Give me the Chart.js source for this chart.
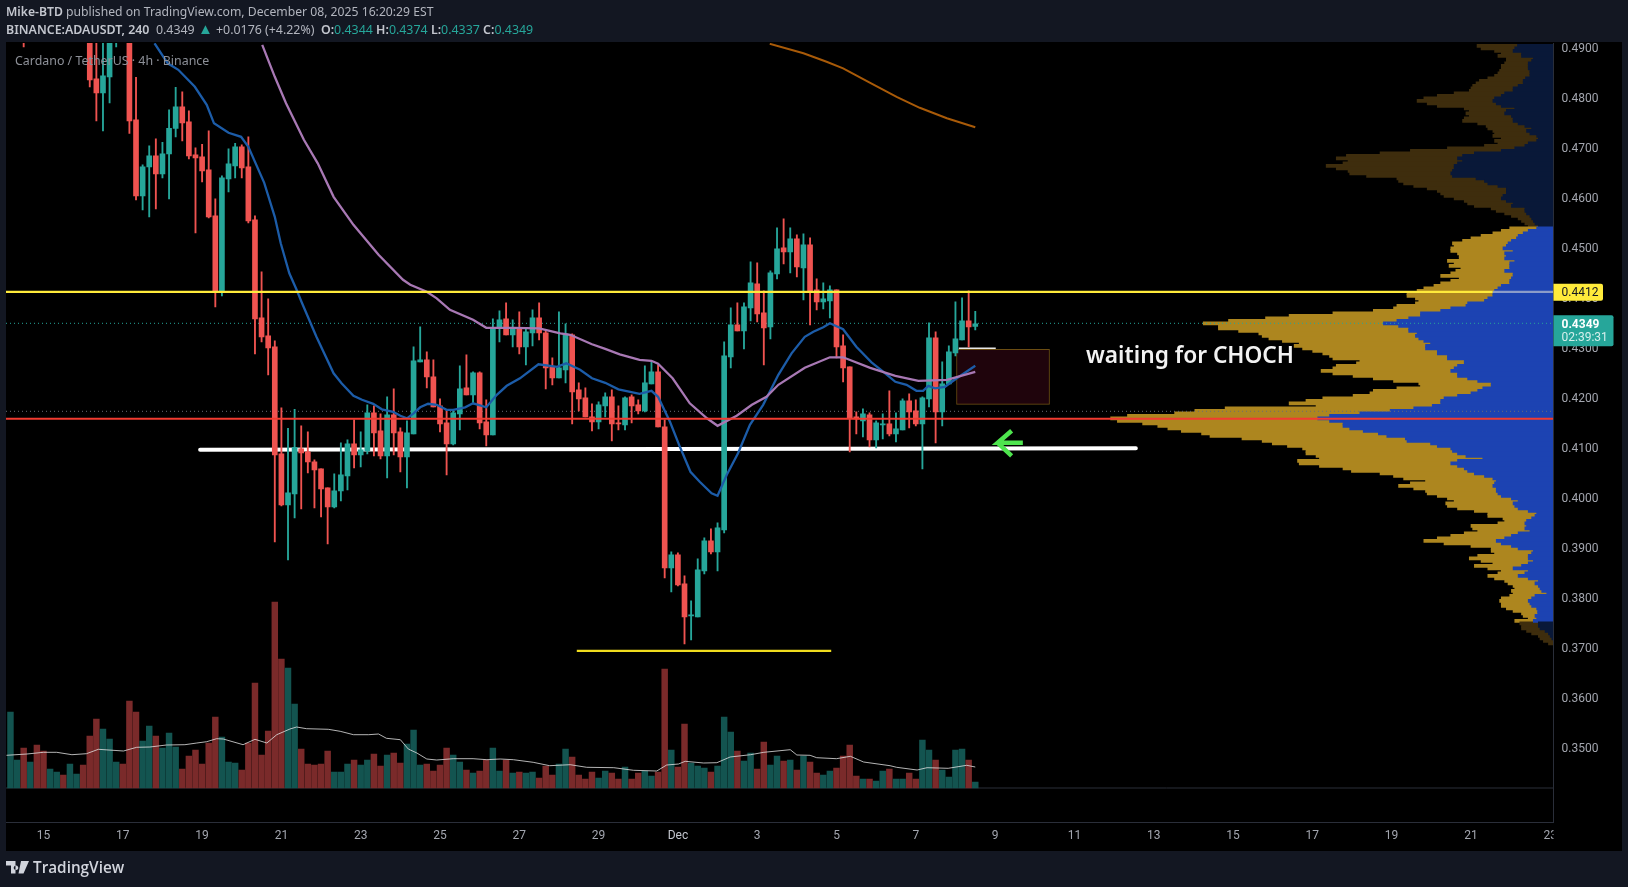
<!DOCTYPE html>
<html>
<head>
<meta charset="utf-8">
<title>ADAUSDT 240</title>
<style>
  html, body { margin: 0; padding: 0; background: #131722; }
  body { width: 1628px; height: 887px; overflow: hidden; position: relative; font-family: "Noto Sans", sans-serif; }
  #grafico { position: absolute; left: 0; top: 0; }
  .txt { position: absolute; white-space: nowrap; }
  #linea1 { left: 6px; top: 3px; font-size: 12.2px; line-height: 18px; color: #b2b5be; }
  #linea2 { left: 6px; top: 20.5px; font-size: 12.4px; line-height: 18px; color: #b2b5be; }
  #linea1 b, #linea2 b { font-weight: 600; color: #c3c6ce; }
  .up { color: #26a69a; }
  .tri { font-size: 15px; line-height: 12px; }
  #simbolo { left: 15px; top: 52px; font-size: 12.4px; line-height: 18px; color: #8d9098; }
  #nota { left: 1086px; top: 338px; font-size: 22.7px; line-height: 34px; font-weight: 600; color: #f2f2f2; }
  #marca { left: 33px; top: 855px; font-family: "Open Sans", sans-serif; font-size: 15.3px; line-height: 24px; font-weight: 600; color: #d1d4dc; }
  #logo { position: absolute; left: 6px; top: 861px; }
</style>
</head>
<body>
<canvas id="grafico" width="1628" height="887"></canvas>
<div class="txt" id="linea1"><b>Mike-BTD</b> published on TradingView.com, December 08, 2025 16:20:29 EST</div>
<div class="txt" id="linea2"><b>BINANCE:ADAUSDT, 240</b> &nbsp;0.4349 <span class="up tri">▲</span> +0.0176 (+4.22%) &nbsp;<b>O:</b><span class="up">0.4344</span> <b>H:</b><span class="up">0.4374</span> <b>L:</b><span class="up">0.4337</span> <b>C:</b><span class="up">0.4349</span></div>
<div class="txt" id="simbolo">Cardano / TetherUS · 4h · Binance</div>
<div class="txt" id="nota">waiting for CHOCH</div>
<svg id="logo" width="23" height="13" viewBox="0 0 23 13"><path fill="#d1d4dc" d="M0 0h9.5v12.5H5V4.5H0zM10 4.5a2.3 2.3 0 1 0 .01 0zM15 0h8l-5.5 12.5h-5z"/></svg>
<div class="txt" id="marca">TradingView</div>

<script src="https://cdn.jsdelivr.net/npm/chart.js@4/dist/chart.umd.js"></script>
<script>
// Ejes
const dateTicks = [0, 12, 24, 36, 48, 60, 72, 84, 96, 108, 120, 132, 144, 156, 168, 180, 192, 204, 216, 228];
const dateLabels = ['15', '17', '19', '21', '23', '25', '27', '29', 'Dec', '3', '5', '7', '9', '11', '13', '15', '17', '19', '21', '23'];
const priceTicks = [0.35, 0.36, 0.37, 0.38, 0.39, 0.40, 0.41, 0.42, 0.43, 0.44, 0.45, 0.46, 0.47, 0.48, 0.49];

// Velas de 4h, la primera esta en el indice -5
const firstCandle = -5;
const opens = [.5075,.5130,.5150,.5080,.5105,.5050,.5010,.5040,.5065,.5030,.5055,.5075,
  .5010,.4839,.4811,.4843,.4960,.5000,.4965,.4757,.4605,.4663,.4685,.4649,.4689,.4740,.4783,.4753,.4687,.4683,.4657,.4565,.4415,.4639,.4665,.4703,.4663,.4557,.4361,.4325,.4303,
  .4089,.3987,.4009,.4099,.4093,.4073,.4059,.4021,.3983,.4015,.4045,.4109,.4087,.4095,.4171,.4135,.4085,.4167,.4133,.4083,.4129,.4273,.4277,.4243,.4185,.4151,.4109,.4169,.4221,.4207,.4251,.4153,.4127,
  .4341,.4359,.4327,.4339,.4303,.4331,.4361,.4331,.4263,.4241,.4257,.4327,.4217,.4201,.4163,.4153,.4185,.4203,.4151,.4147,.4203,.4187,.4175,.4229,.4253,.4143,.3861,.3887,.3829,.3765,.3763,.3855,.3915,.3893,.3937,.4283,.4347,.4335,.4381,.4429,.4371,.4343,.4449,.4501,.4493,.4519,.4461,.4507,.4417,.4393,.4395,.4417,.4305,.4263,.4163,.4155,.4167,.4117,.4147,.4149,.4129,.4137,.4195,.4175,.4149,.4199,.4321,.4173,.4229,.4291,.4317,.4355,.4344];
const closes = [.5130,.5150,.5080,.5105,.5050,.5010,.5040,.5065,.5030,.5055,.5075,.5010,
  .4837,.4811,.4845,.4960,.5000,.4965,.4755,.4605,.4663,.4685,.4649,.4689,.4740,.4783,.4751,.4685,.4681,.4655,.4563,.4415,.4641,.4669,.4703,.4661,.4555,.4359,.4323,.4301,.4087,
  .3987,.4011,.4102,.4091,.4073,.4057,.4019,.3983,.4015,.4047,.4109,.4087,.4097,.4171,.4131,.4085,.4167,.4131,.4083,.4131,.4275,.4277,.4243,.4183,.4149,.4109,.4171,.4219,.4207,.4251,.4151,.4127,.4341,
  .4357,.4327,.4339,.4303,.4333,.4361,.4331,.4261,.4241,.4261,.4329,.4213,.4199,.4163,.4153,.4187,.4203,.4149,.4149,.4201,.4185,.4175,.4231,.4253,.4143,.3861,.3887,.3827,.3763,.3767,.3857,.3915,.3893,.3941,.4285,.4347,.4335,.4383,.4431,.4369,.4341,.4451,.4499,.4493,.4519,.4463,.4507,.4413,.4393,.4399,.4417,.4303,.4261,.4161,.4159,.4169,.4117,.4151,.4149,.4129,.4139,.4195,.4173,.4149,.4201,.4321,.4173,.4229,.4293,.4319,.4355,.4343,.4349];
const highs = [.5150,.5170,.5160,.5125,.5115,.5065,.5055,.5075,.5080,.5065,.5085,.5085,
  .5020,.4925,.4925,.4975,.5010,.5010,.4975,.4842,.4667,.4705,.4719,.4712,.4777,.4822,.4813,.4775,.4701,.4708,.4735,.4599,.4645,.4699,.4710,.4707,.4723,.4565,.4453,.4399,.4315,
  .4181,.4140,.4178,.4145,.4133,.4077,.4059,.4021,.4049,.4111,.4117,.4157,.4133,.4187,.4185,.4169,.4203,.4219,.4141,.4155,.4303,.4343,.4293,.4277,.4199,.4177,.4177,.4265,.4287,.4253,.4253,.4197,.4359,
  .4375,.4391,.4357,.4373,.4339,.4377,.4391,.4335,.4281,.4373,.4349,.4329,.4231,.4221,.4189,.4193,.4211,.4217,.4185,.4203,.4207,.4197,.4265,.4273,.4267,.4157,.3893,.3891,.3845,.3795,.3879,.3921,.3939,.3951,.4313,.4381,.4391,.4391,.4473,.4471,.4415,.4455,.4541,.4559,.4541,.4527,.4529,.4521,.4439,.4431,.4425,.4417,.4327,.4263,.4173,.4179,.4171,.4155,.4169,.4215,.4171,.4199,.4209,.4197,.4203,.4351,.4333,.4273,.4305,.4393,.4401,.4415,.4374];
const lows = [.5060,.5110,.4903,.5060,.5035,.4990,.4995,.5020,.5015,.5020,.5035,.4990,
  .4823,.4755,.4735,.4791,.4903,.4945,.4730,.4597,.4577,.4563,.4579,.4641,.4599,.4723,.4715,.4679,.4531,.4633,.4561,.4383,.4405,.4613,.4641,.4641,.4551,.4289,.4313,.4247,.3913,
  .3985,.3877,.3961,.3979,.4051,.3981,.3963,.3909,.3981,.3995,.4017,.4061,.4063,.4089,.4085,.4079,.4041,.4087,.4053,.4021,.4129,.4273,.4221,.4183,.4133,.4047,.4107,.4137,.4207,.4189,.4139,.4105,.4127,
  .4313,.4327,.4303,.4289,.4267,.4305,.4317,.4219,.4227,.4241,.4231,.4149,.4175,.4163,.4135,.4139,.4163,.4115,.4137,.4137,.4151,.4169,.4173,.4229,.4143,.3841,.3813,.3825,.3709,.3717,.3763,.3849,.3889,.3855,.3931,.4261,.4335,.4299,.4355,.4353,.4267,.4319,.4439,.4469,.4451,.4443,.4397,.4347,.4377,.4379,.4361,.4281,.4233,.4093,.4129,.4123,.4103,.4101,.4119,.4125,.4113,.4137,.4141,.4145,.4059,.4183,.4111,.4145,.4229,.4285,.4317,.4303,.4337];

const volumes = [76,28,40,26,43,37,19,16,13,24,14,23,52,69,59,49,26,24,87,76,47,62,52,40,55,41,19,32,38,24,45,71,51,26,25,18,45,105,33,57,186,129,120,84,39,24,23,24,37,16,16,24,28,23,28,34,22,33,35,25,44,58,23,24,17,23,40,33,26,18,15,17,28,40,17,
  28,15,16,15,16,10,22,13,24,39,31,13,9,16,10,17,15,9,21,9,15,17,12,16,119,38,21,64,25,22,20,16,22,71,56,37,27,35,19,46,23,32,27,28,18,32,26,15,13,17,20,32,43,12,9,9,7,17,19,9,9,15,9,48,38,28,18,11,38,39,28,6];
const volMaX = [-5.6,-2.5,0,2,4.3,6.5,8.3,12.1,14.1,16.1,18.6,21.4,23.2,24.7,26.2,27.2,30.2,32,33.8,35.3,37.3,38.3,39.8,43.1,44.9,46.9,49.2,50.7,51.9,54,55.2,56.5,58,59.5,62,65,67.1,69.1,71.1,74.1,76.6,79.7,82.2,86.3,89.3,92.8,94.3,96.1,97.1,99.9,101.9,103.9,107,109,113,114,116,117,120,122.1,124.1,128.1,129.1,132.2,133.7,136.9,139.7,141];
const volMaY = [32.7,34,35.7,35.7,33.3,34.3,38.7,37,40.7,41,43,43.3,45,46.3,49.3,49,43.3,48.7,45,53.3,59,61,59.3,58.7,56.7,53.3,53.3,54,49.7,48.3,39,35,29,28,29.3,29.3,28.3,29,28.3,25.7,22.3,23.3,20.7,20.3,17.7,17,23,24,26.7,25,25.3,31,33.3,35.7,38.3,33,32.7,30.3,29.3,31.7,26,22.3,20.7,18,20.3,19.7,22.7,21];

// Medias moviles
const blueX = [16.8,18.8,20.4,22.9,24.7,25.8,28,29.9,31,33.4,35,35.9,37.2,38.3,39.1,41.3,43.9,45.1,46.9,48.2,49.9,51.2,52.9,54,55,56,57,58.2,59.5,61,62,63.8,65,67,68.6,70.1,72.1,74.9,77.7,79.1,81.2,83,85,87,90.2,92,93,94.8,96.3,97.9,99.3,101.1,102,103.4,105.1,106.9,108.9,111.2,113.2,115.2,116.5,118,119,121,123,125.3,127.1,128.9,130.6,132.1,133.1,133.9,134.9,136.4,138.2,141];
const blueY = [.4910,.4870,.4857,.4823,.4787,.4750,.4731,.4723,.4703,.4631,.4563,.4510,.4450,.4417,.4391,.4323,.4250,.4230,.4205,.4197,.4189,.4178,.4173,.4165,.4160,.4170,.4182,.4189,.4187,.4177,.4177,.4182,.4190,.4182,.4207,.4225,.4240,.4268,.4263,.4270,.4257,.4240,.4231,.4218,.4209,.4215,.4203,.4153,.4103,.4053,.4033,.4010,.4005,.4047,.4090,.4147,.4187,.4247,.4290,.4323,.4333,.4342,.4350,.4338,.4303,.4272,.4253,.4233,.4227,.4215,.4215,.4225,.4220,.4223,.4240,.4265];
const pinkX = [33.1,35,36.7,39.4,41.5,43.9,46.9,50.7,54.4,55.5,58,59.5,61.5,65,67,71.1,75,78.2,79.7,83,85,87.2,90.2,92,93,95.2,97.8,100.4,102,104.9,107.2,109.4,111.2,115.2,119,121,125.1,128.9,132.4,136.7,141];
const pinkY = [.4907,.4843,.4790,.4717,.4670,.4603,.4547,.4487,.4437,.4427,.4413,.4400,.4377,.4357,.4341,.4341,.4340,.4330,.4327,.4308,.4299,.4288,.4277,.4275,.4269,.4240,.4190,.4160,.4145,.4165,.4187,.4203,.4227,.4261,.4282,.4282,.4261,.4245,.4235,.4237,.4253];
const orangeX = [109.9,115,118.5,121,125.1,129.1,132.6,136.7,141];
const orangeY = [.4909,.4890,.4873,.4860,.4831,.4803,.4781,.4760,.4742];

// Perfil de volumen: precio de cada fila, volumen total y volumen comprador
const profileRows = [.4905,.4900,.4895,.4890,.4885,.4880,.4875,.4870,.4865,.4860,.4855,.4850,.4845,.4840,.4835,.4830,.4825,.4820,.4815,.4810,.4805,.4800,.4795,.4790,.4785,.4780,.4775,.4770,.4765,.4760,.4755,.4750,.4745,.4740,.4735,.4730,.4725,.4720,.4715,.4710,.4705,.4700,.4695,.4690,.4685,.4680,.4675,.4670,.4665,.4660,.4655,.4650,.4645,.4640,.4635,.4630,.4625,.4620,.4615,.4610,.4605,.4600,.4595,.4590,.4585,.4580,.4575,.4570,.4565,.4560,.4555,.4550,.4545,
  .4540,.4535,.4530,.4525,.4520,.4515,.4510,.4505,.4500,.4495,.4490,.4485,.4480,.4475,.4470,.4465,.4460,.4455,.4450,.4445,.4440,.4435,.4430,.4425,.4420,.4415,.4410,.4405,.4400,.4395,.4390,.4385,.4380,.4375,.4370,.4365,.4360,.4355,.4350,.4345,.4340,.4335,.4330,.4325,.4320,.4315,.4310,.4305,.4300,.4295,.4290,.4285,.4280,.4275,.4270,.4265,.4260,.4255,.4250,.4245,.4240,.4235,.4230,.4225,.4220,.4215,.4210,.4205,.4200,.4195,.4190,.4185,.4180,.4175,.4170,.4165,.4160,.4155,.4150,.4145,.4140,.4135,.4130,.4125,.4120,.4115,.4110,.4105,.4100,.4095,.4090,.4085,.4080,.4075,.4070,.4065,.4060,.4055,.4050,.4045,.4040,.4035,.4030,.4025,.4020,.4015,.4010,.4005,.4000,.3995,.3990,.3985,.3980,.3975,.3970,.3965,.3960,.3955,.3950,.3945,.3940,.3935,.3930,.3925,.3920,.3915,.3910,.3905,.3900,.3895,.3890,.3885,.3880,.3875,.3870,.3865,.3860,.3855,.3850,.3845,.3840,.3835,.3830,.3825,.3820,.3815,.3810,.3805,.3800,.3795,.3790,.3785,.3780,.3775,.3770,.3765,.3760,.3755,
  .3750,.3745,.3740,.3735,.3730,.3725,.3720,.3715,.3710];
const profileTotal = [227,215,175,155,165,140,140,145,155,155,160,165,175,195,220,230,240,245,250,295,345,385,405,375,345,265,250,260,250,265,270,225,200,195,180,175,180,155,175,165,205,315,425,515,615,645,610,625,675,645,610,605,555,465,460,445,415,375,345,335,325,295,265,255,235,185,170,145,125,105,95,85,75,
  130,155,180,215,245,270,300,295,305,305,285,280,280,315,295,310,275,290,305,335,280,305,335,355,385,405,435,435,410,400,410,465,475,535,655,785,855,965,1040,995,995,935,875,865,845,805,755,770,745,715,685,665,655,575,585,645,655,690,655,595,535,475,400,395,465,535,545,595,685,735,785,705,975,1065,1125,1265,1315,1295,1220,1175,1145,1105,1045,1020,925,865,835,790,745,735,735,705,695,760,755,695,625,600,515,475,445,380,425,460,415,380,375,345,315,295,320,315,285,235,195,195,150,145,165,245,240,225,265,305,345,385,325,245,185,185,175,225,250,215,180,235,195,155,165,195,175,145,135,120,115,125,120,130,155,160,155,155,140,120,95,90,75,115,
  100,95,95,80,65,45,40,30,15];
const profileUp = [107,115,120,95,95,60,65,75,75,75,70,70,70,83,90,90,105,120,120,145,155,175,180,170,155,115,140,145,125,120,120,105,85,65,80,70,50,45,50,75,85,115,155,235,270,285,270,285,295,295,300,305,300,230,205,195,165,140,140,140,150,155,140,120,125,85,85,80,70,65,60,55,45,
  50,75,90,105,110,125,135,140,150,120,145,140,145,115,130,130,130,145,120,120,125,130,130,155,165,175,180,180,195,205,255,260,305,335,395,395,430,465,505,460,430,430,405,410,400,385,365,380,380,345,345,315,315,265,265,285,295,305,285,285,255,225,185,185,210,225,245,285,325,335,335,360,415,485,575,665,700,665,625,625,605,565,520,495,440,435,365,345,305,300,285,260,210,285,305,285,265,255,235,205,180,170,175,180,170,170,165,155,125,105,120,115,105,75,50,55,65,80,85,80,85,70,105,125,145,170,155,125,105,60,65,75,75,60,75,95,120,75,85,105,75,45,55,45,40,35,20,55,65,75,70,65,50,47,47,55,50,60,
  45,45,40,25,15,10,5,0,0];
const valueAreaHigh = 0.4540;
const valueAreaLow = 0.3755;

// Niveles y dibujos
const yellowLevel = 0.4412;
const yellowLine = 0.4413;
const redLevel = 0.4159;
const lastPrice = 0.4349;
const prevLevel = 0.4174;
const countdown = '02:39:31';
const whiteLineX = [23.7, 165.3];
const whiteLineY = [0.4097, 0.4100];
const lowLineX = [80.7, 119.2];
const lowLineY = [0.3695, 0.3695];
const shortLineX = [138.5, 144.1];
const shortLineY = [0.4300, 0.4300];
const arrowX = [148.2, 144.4, 146.5, 144.4, 146.5];
const arrowY = [0.4111, 0.4111, 0.4135, 0.4111, 0.4085];
const boxCenter = 145.2;
const boxRange = [0.4188, 0.4298];

const upColor = '#26a69a';
const downColor = '#ef5350';
const candleIdx = opens.map((_, k) => k + firstCandle);
const isUp = opens.map((o, k) => closes[k] >= o);

// Crea un dataset de linea a partir de dos listas
function lineSet(xs, ys, color, width, order, extra) {
    return Object.assign({
        type: 'line',
        data: xs.map((x, k) => ({ x: x, y: ys[k] })),
        xAxisID: 'x',
        yAxisID: 'y',
        borderColor: color,
        borderWidth: width,
        pointRadius: 0,
        tension: 0,
        fill: false,
        order: order
    }, extra || {});
}

const xMin = dateTicks[0] - 5.675;
const xMax = 228.5;

const datasets = [
    // Niveles por encima de las velas
    lineSet([xMin, 219.3], [yellowLine, yellowLine], '#ffeb3b', 2.2, 1),
    lineSet([219.3, xMax], [yellowLine, yellowLine], '#8b9cc9', 2.2, 1),
    lineSet([xMin, xMax], [redLevel, redLevel], '#f23b30', 2, 1),
    lineSet(orangeX, orangeY, '#a85a08', 2, 2),
    lineSet(pinkX, pinkY, '#a878b4', 2.3, 2),
    lineSet(blueX, blueY, '#1c5ca8', 2.3, 2),
    lineSet(lowLineX, lowLineY, '#f0dc1e', 2.2, 2),
    lineSet(arrowX, arrowY, '#4ee44e', 4.5, 2),
    // Velas
    {
        type: 'bar',
        data: candleIdx.map((x, k) => ({ x: x, y: [opens[k], closes[k]] })),
        backgroundColor: isUp.map(u => u ? upColor : downColor),
        barThickness: 5,
        minBarLength: 1,
        grouped: false,
        xAxisID: 'x',
        yAxisID: 'y',
        order: 3
    },
    {
        type: 'bar',
        data: candleIdx.map((x, k) => ({ x: x, y: [lows[k], highs[k]] })),
        backgroundColor: isUp.map(u => u ? upColor : downColor),
        barThickness: 1.2,
        grouped: false,
        xAxisID: 'x',
        yAxisID: 'y',
        order: 4
    },
    // Zona y linea blanca por debajo de las velas
    lineSet(shortLineX, shortLineY, '#e8e8e8', 1.5, 5),
    lineSet(whiteLineX, whiteLineY, '#ffffff', 4, 5, { borderCapStyle: 'round' }),
    {
        type: 'bar',
        data: [{ x: boxCenter, y: boxRange }],
        backgroundColor: '#1f040c',
        borderColor: '#6b4d12',
        borderWidth: 1,
        borderSkipped: false,
        barThickness: 93,
        grouped: false,
        xAxisID: 'x',
        yAxisID: 'y',
        order: 6
    },
    // Lineas punteadas
    lineSet([xMin, xMax], [lastPrice + 0.0001, lastPrice + 0.0001], '#26a69a', 1, 7, { borderDash: [1, 3] }),
    lineSet([xMin, xMax], [prevLevel, prevLevel], '#6a6d75', 1, 7, { borderDash: [1, 3] }),
    // Volumen
    {
        type: 'line',
        data: volMaX.map((x, k) => ({ x: x, y: volMaY[k] })),
        xAxisID: 'x',
        yAxisID: 'yVol',
        borderColor: 'rgba(225,225,225,0.8)',
        borderWidth: 1,
        pointRadius: 0,
        fill: false,
        order: 8
    },
    {
        type: 'bar',
        data: candleIdx.map((x, k) => ({ x: x, y: volumes[k] })),
        backgroundColor: isUp.map(u => u ? '#135450' : '#7a2a2a'),
        barThickness: 5.8,
        grouped: false,
        xAxisID: 'x',
        yAxisID: 'yVol',
        order: 9
    },
    {
        type: 'line',
        data: [{ x: xMin, y: 0 }, { x: xMax, y: 0 }],
        xAxisID: 'x',
        yAxisID: 'yVol',
        borderColor: '#2a2e39',
        borderWidth: 1,
        pointRadius: 0,
        order: 10
    },
    // Perfil de volumen, anclado al borde derecho
    {
        type: 'bar',
        indexAxis: 'y',
        data: profileRows.map((p, k) => ({ x: profileUp[k], y: p })),
        backgroundColor: profileRows.map(p => p <= valueAreaHigh && p >= valueAreaLow ? '#1c43b2' : '#091838'),
        barThickness: 3,
        grouped: false,
        xAxisID: 'xP',
        yAxisID: 'y',
        order: 11
    },
    {
        type: 'bar',
        indexAxis: 'y',
        data: profileRows.map((p, k) => ({ x: profileTotal[k], y: p })),
        backgroundColor: profileRows.map(p => p <= valueAreaHigh && p >= valueAreaLow ? '#ad861f' : '#3e2d0d'),
        barThickness: 3,
        grouped: false,
        xAxisID: 'xP',
        yAxisID: 'y',
        order: 12
    }
];

// Fondo negro del panel y etiquetas de precio
const panelPlugin = {
    id: 'panel',
    beforeDraw(chart) {
        const ctx = chart.ctx;
        const s = chart.scales.y;
        ctx.save();
        ctx.fillStyle = '#000000';
        ctx.fillRect(6, 42, s.right - 6, 809);
        ctx.restore();
    },
    afterDatasetsDraw(chart) {
        // tapa lo que se sale del eje de tiempo por la derecha
        const ctx = chart.ctx;
        const s = chart.scales.y;
        ctx.save();
        ctx.fillStyle = '#000000';
        ctx.fillRect(s.left, 42, s.right - s.left, 809);
        ctx.restore();
    },
    afterDraw(chart) {
        const ctx = chart.ctx;
        const s = chart.scales.y;
        const yy = s.getPixelForValue(yellowLevel);
        const yl = s.getPixelForValue(lastPrice);
        ctx.save();
        ctx.textBaseline = 'middle';
        ctx.textAlign = 'left';
        ctx.fillStyle = '#ffeb3b';
        ctx.beginPath();
        ctx.roundRect(s.left, yy - 8.5, 49.5, 17, [0, 2, 2, 0]);
        ctx.fill();
        ctx.fillStyle = '#131722';
        ctx.font = '12px Roboto';
        ctx.fillText(yellowLevel.toFixed(4), s.left + 8, yy + 1);
        ctx.fillStyle = upColor;
        ctx.beginPath();
        ctx.roundRect(s.left, yl - 8.5, 60, 31, [0, 2, 2, 0]);
        ctx.fill();
        ctx.fillStyle = '#ffffff';
        ctx.font = 'bold 12px Roboto';
        ctx.fillText(lastPrice.toFixed(4), s.left + 8, yl + 1);
        ctx.fillStyle = '#d5efec';
        ctx.font = '12px Roboto';
        ctx.fillText(countdown, s.left + 8, yl + 14.5);
        ctx.restore();
    }
};

new Chart(document.getElementById('grafico').getContext('2d'), {
    type: 'bar',
    data: { datasets: datasets },
    plugins: [panelPlugin],
    options: {
        responsive: false,
        animation: false,
        events: [],
        layout: { padding: { left: 6, top: 43, right: 6, bottom: 36 } },
        plugins: { legend: { display: false }, tooltip: { enabled: false } },
        scales: {
            x: {
                type: 'linear',
                axis: 'x',
                position: 'bottom',
                min: xMin,
                max: xMax,
                offset: false,
                grid: { display: false, offset: false, drawTicks: false },
                border: { color: '#2a2e39' },
                afterFit: s => { s.height = 29; },
                afterBuildTicks: s => { s.ticks = dateTicks.map(v => ({ value: v })); },
                ticks: {
                    autoSkip: false,
                    maxRotation: 0,
                    padding: 7,
                    color: c => c.tick && c.tick.label === 'Dec' ? '#c3c6ce' : '#a3a6af',
                    font: { family: 'Roboto', size: 12 },
                    callback: v => dateLabels[dateTicks.indexOf(v)]
                }
            },
            y: {
                type: 'linear',
                axis: 'y',
                position: 'right',
                min: 0.33526,
                max: 0.49106,
                offset: false,
                grid: { display: false, offset: false, drawTicks: false },
                border: { color: '#2a2e39', z: 1 },
                afterFit: s => { s.width = 68.5; },
                afterBuildTicks: s => { s.ticks = priceTicks.map(v => ({ value: v })); },
                ticks: {
                    z: 1,
                    padding: 8,
                    labelOffset: 1,
                    color: '#a3a6af',
                    font: { family: 'Roboto', size: 12 },
                    callback: v => v.toFixed(4)
                }
            },
            yVol: {
                type: 'linear',
                axis: 'y',
                display: false,
                min: -34,
                max: 745,
                offset: false
            },
            xP: {
                type: 'linear',
                axis: 'x',
                display: false,
                reverse: true,
                min: 0,
                max: 4595,
                offset: false
            }
        }
    }
});
</script>
</body>
</html>
